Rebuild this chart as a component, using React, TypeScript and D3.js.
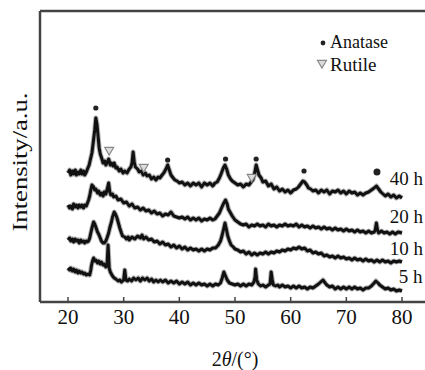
import React from 'react';
import * as d3 from 'd3';

// 2θ (deg) vs intensity (a.u., offset per sample)
const series40h: [number, number][] = [
  [20, 129], [20.3, 132], [20.5, 127], [20.8, 131], [21, 128], [21.3, 132], [21.5, 127], [21.8, 130], [22, 128],
  [22.3, 132], [22.5, 128], [22.8, 131], [23, 127], [23.3, 130], [23.5, 133], [23.8, 137], [24, 142], [24.3, 149],
  [24.5, 158], [24.8, 172], [25, 184], [25.2, 178], [25.4, 166], [25.6, 154], [25.8, 148], [26.1, 143], [26.3, 139],
  [26.6, 141], [26.8, 137], [27.1, 140], [27.3, 143], [27.6, 137], [27.8, 139], [28.1, 136], [28.3, 139], [28.6, 134],
  [28.8, 135], [29.2, 131], [29.5, 133], [29.9, 129], [30.2, 131], [30.6, 129], [31, 133], [31.3, 135], [31.5, 139],
  [31.7, 150], [31.9, 140], [32.1, 135], [32.5, 133], [32.8, 130], [33.2, 131], [33.5, 127], [33.9, 129], [34.2, 126],
  [34.6, 127], [35, 123], [35.4, 125], [35.8, 122], [36.2, 125], [36.5, 124], [36.9, 127], [37.2, 129], [37.6, 133],
  [37.9, 137], [38.2, 132], [38.5, 127], [38.9, 124], [39.2, 122], [39.6, 121], [40, 119], [40.5, 120], [41, 117],
  [41.5, 119], [42, 116], [42.5, 119], [43, 117], [43.5, 119], [44, 115], [44.5, 119], [45, 117], [45.5, 119],
  [46, 116], [46.4, 119], [46.8, 120], [47.2, 124], [47.5, 128], [47.9, 134], [48.2, 137], [48.5, 133], [48.8, 127],
  [49.2, 123], [49.5, 121], [50, 119], [50.5, 117], [51, 118], [51.5, 115], [52, 118], [52.5, 117], [52.9, 120],
  [53.2, 122], [53.5, 128], [53.8, 137], [54.1, 131], [54.3, 127], [54.7, 124], [55, 120], [55.5, 121], [56, 116],
  [56.5, 118], [57, 113], [57.5, 115], [58, 111], [58.5, 113], [59, 110], [59.5, 112], [60, 109], [60.5, 112],
  [61, 113], [61.4, 115], [61.8, 118], [62.2, 121], [62.5, 120], [62.9, 117], [63.2, 114], [63.6, 113], [64, 111],
  [64.5, 112], [65, 109], [65.5, 112], [66, 110], [66.5, 112], [67, 108], [67.5, 111], [68, 110], [68.5, 112],
  [69, 109], [69.5, 111], [70, 108], [70.5, 111], [71, 109], [71.5, 110], [72, 107], [72.5, 109], [73, 107],
  [73.5, 109], [74, 110], [74.5, 112], [75, 114], [75.4, 116], [75.8, 113], [76.2, 110], [76.6, 108], [77, 106],
  [77.5, 108], [78, 105], [78.5, 107], [79, 104], [79.5, 106], [80, 104],
];

const series20h: [number, number][] = [
  [20, 97], [20.3, 94], [20.5, 96], [20.8, 93], [21, 98], [21.3, 95], [21.5, 97], [21.8, 94], [22, 97], [22.3, 95],
  [22.5, 97], [22.8, 94], [23, 97], [23.3, 96], [23.5, 99], [23.7, 102], [23.9, 106], [24.1, 112], [24.3, 117],
  [24.6, 115], [24.8, 112], [25, 113], [25.3, 109], [25.5, 111], [25.8, 107], [26, 109], [26.3, 106], [26.5, 110],
  [26.8, 108], [27, 112], [27.3, 119], [27.5, 110], [27.7, 107], [28, 108], [28.2, 105], [28.6, 106], [29, 102],
  [29.5, 103], [30, 99], [30.5, 100], [31, 96], [31.5, 98], [32, 94], [32.5, 95], [33, 92], [33.5, 94], [34, 91],
  [34.5, 92], [35, 89], [35.5, 91], [36, 88], [36.5, 89], [37, 86], [37.5, 88], [38, 87], [38.5, 90], [39, 86],
  [39.5, 85], [40, 84], [40.5, 85], [41, 83], [41.5, 85], [42, 82], [42.5, 84], [43, 82], [43.5, 84], [44, 81],
  [44.5, 83], [45, 82], [45.5, 84], [46, 82], [46.4, 83], [46.8, 86], [47.2, 89], [47.5, 93], [47.9, 98], [48.3, 102],
  [48.6, 98], [48.8, 93], [49.2, 89], [49.5, 86], [50, 82], [50.5, 80], [51, 78], [51.5, 77], [52, 78], [52.5, 75],
  [53, 77], [53.5, 76], [54, 78], [54.5, 76], [55, 77], [55.5, 75], [56, 78], [56.5, 76], [57, 77], [57.5, 75],
  [58, 77], [58.5, 76], [59, 78], [59.5, 76], [60, 77], [60.5, 76], [61, 78], [61.5, 75], [62, 77], [62.5, 75],
  [63, 76], [63.5, 74], [64, 76], [64.5, 74], [65, 75], [65.5, 73], [66, 75], [66.5, 73], [67, 74], [67.5, 72],
  [68, 74], [68.5, 72], [69, 73], [69.5, 71], [70, 73], [70.5, 71], [71, 72], [71.5, 70], [72, 72], [72.5, 70],
  [73, 71], [73.5, 69], [74, 71], [74.5, 69], [75, 70], [75.2, 72], [75.4, 79], [75.6, 72], [75.8, 69], [76.3, 71],
  [76.8, 69], [77.3, 70], [77.8, 68], [78.3, 70], [78.8, 68], [79.3, 70], [80, 69],
];

const series10h: [number, number][] = [
  [20, 62], [20.3, 64], [20.5, 61], [20.8, 63], [21, 60], [21.3, 63], [21.5, 61], [21.8, 62], [22, 59], [22.3, 62],
  [22.5, 60], [22.8, 61], [23, 59], [23.3, 61], [23.5, 60], [23.7, 61], [23.9, 64], [24.1, 69], [24.3, 74], [24.6, 80],
  [24.8, 78], [25, 75], [25.3, 70], [25.5, 68], [25.8, 64], [26, 61], [26.3, 59], [26.5, 59], [26.8, 61], [27, 64],
  [27.3, 69], [27.5, 74], [27.8, 80], [28, 85], [28.3, 90], [28.6, 87], [28.8, 84], [29.1, 78], [29.3, 74], [29.6, 69],
  [29.8, 66], [30.2, 65], [30.5, 63], [30.8, 65], [31, 62], [31.5, 65], [32, 63], [32.5, 66], [33, 64], [33.3, 67],
  [33.6, 63], [34, 65], [34.5, 62], [35, 63], [35.5, 60], [36, 61], [36.5, 58], [37, 60], [37.5, 57], [38, 58],
  [38.5, 55], [39, 57], [39.5, 54], [40, 56], [40.5, 53], [41, 55], [41.5, 52], [42, 54], [42.5, 52], [43, 53],
  [43.5, 51], [44, 53], [44.5, 51], [45, 53], [45.5, 52], [46, 54], [46.5, 54], [47, 57], [47.4, 61], [47.7, 67],
  [48, 74], [48.2, 79], [48.4, 74], [48.7, 66], [49, 61], [49.3, 57], [49.7, 55], [50, 53], [50.5, 52], [51, 50],
  [51.5, 51], [52, 48], [52.5, 50], [53, 47], [53.5, 49], [54, 47], [54.5, 49], [55, 48], [55.5, 50], [56, 48],
  [56.5, 50], [57, 49], [57.5, 51], [58, 50], [58.5, 52], [59, 51], [59.5, 53], [60, 52], [60.5, 54], [61, 53],
  [61.5, 55], [62, 53], [62.5, 54], [63, 51], [63.5, 52], [64, 49], [64.5, 50], [65, 48], [65.5, 49], [66, 46],
  [66.5, 47], [67, 45], [67.5, 46], [68, 44], [68.5, 46], [69, 44], [69.5, 45], [70, 43], [70.5, 44], [71, 42],
  [71.5, 44], [72, 42], [72.5, 43], [73, 41], [73.5, 43], [74, 41], [74.5, 42], [75, 40], [75.5, 42], [76, 40],
  [76.5, 42], [77, 40], [77.5, 41], [78, 39], [78.5, 41], [79, 40], [79.5, 41], [80, 40],
];

const series5h: [number, number][] = [
  [20, 34], [20.3, 32], [20.5, 34], [20.8, 31], [21, 33], [21.3, 30], [21.5, 32], [21.8, 29], [22, 31], [22.3, 29],
  [22.5, 30], [22.8, 28], [23, 29], [23.3, 27], [23.6, 28], [23.9, 27], [24.1, 32], [24.2, 36], [24.4, 41], [24.6, 44],
  [24.8, 41], [25, 42], [25.3, 39], [25.5, 41], [25.8, 38], [26, 40], [26.3, 37], [26.5, 38], [26.8, 35], [27, 36],
  [27.2, 57], [27.4, 34], [27.6, 30], [27.8, 28], [28, 26], [28.3, 24], [28.6, 23], [29, 21], [29.3, 22], [29.6, 20],
  [30, 22], [30.2, 32], [30.4, 22], [30.7, 21], [31, 23], [31.4, 21], [31.8, 24], [32.2, 22], [32.6, 24], [33, 21],
  [33.4, 24], [33.8, 22], [34.2, 24], [34.6, 21], [35, 23], [35.4, 20], [35.8, 22], [36.2, 20], [36.6, 22], [37, 20],
  [37.5, 22], [38, 19], [38.5, 21], [39, 19], [39.5, 21], [40, 18], [40.5, 20], [41, 18], [41.5, 20], [42, 17],
  [42.5, 19], [43, 17], [43.5, 19], [44, 17], [44.5, 18], [45, 16], [45.5, 18], [46, 16], [46.5, 18], [47, 17],
  [47.4, 19], [47.7, 24], [48, 30], [48.3, 26], [48.6, 22], [49, 19], [49.5, 18], [50, 17], [50.5, 18], [51, 16],
  [51.5, 18], [52, 16], [52.5, 18], [53, 17], [53.4, 20], [53.6, 25], [53.7, 33], [53.9, 22], [54.2, 18], [54.6, 16],
  [55, 17], [55.5, 15], [56, 17], [56.3, 18], [56.5, 30], [56.7, 22], [56.9, 17], [57.3, 16], [57.7, 17], [58, 15],
  [58.5, 17], [59, 15], [59.5, 16], [60, 14], [60.5, 16], [61, 14], [61.5, 16], [62, 14], [62.5, 15], [63, 13],
  [63.5, 15], [64, 14], [64.5, 16], [65, 18], [65.4, 20], [65.8, 22], [66.2, 19], [66.5, 17], [67, 15], [67.5, 16],
  [68, 13], [68.5, 15], [69, 13], [69.5, 15], [70, 13], [70.5, 15], [71, 13], [71.5, 15], [72, 13], [72.5, 14],
  [73, 12], [73.5, 14], [74, 14], [74.5, 16], [75, 19], [75.3, 21], [75.7, 19], [76, 17], [76.5, 15], [77, 13],
  [77.5, 14], [78, 12], [78.5, 13], [79, 11], [79.5, 12], [80, 11],
];

const seriesList = [series40h, series20h, series10h, series5h];
const seriesLabels = ['40 h', '20 h', '10 h', '5 h'];
const labelY = [117, 79, 47, 19];
const labelX = [77.8, 77.8, 77.8, 79.4];

// phase markers on the 40 h pattern
const anatasePeaks: [number, number][] = [[25, 194], [37.9, 142], [48.3, 143], [53.8, 143], [62.4, 131], [75.5, 130]];
const rutilePeaks: [number, number][] = [[27.4, 152], [33.6, 135], [53.0, 125]];

const xTicks = [20, 30, 40, 50, 60, 70, 80];

const W = 425;
const H = 370;
const FONT = "'Liberation Serif'";

const App: React.FC = () => {
  const x = d3.scaleLinear().domain([20, 80]).range([68, 402]);
  const y = d3.scaleLinear().domain([0, 291]).range([302, 11]);
  const line = d3.line<[number, number]>().x(d => x(d[0])).y(d => y(d[1]));
  const tri = d3.symbol().type(d3.symbolTriangle).size(34)() || '';
  const frameColor = '#444';

  return (
    <svg width={W} height={H} style={{ position: 'absolute', left: 0, top: 0, background: '#fff' }}>
      <rect x={0} y={0} width={W} height={H} fill="#fff" />

      {/* frame: left, top, bottom (right edge is cut off) */}
      <line x1={40} x2={W} y1={11} y2={11} stroke={frameColor} strokeWidth={2.5} />
      <line x1={40} x2={40} y1={11} y2={302} stroke={frameColor} strokeWidth={2.5} />
      <line x1={40} x2={W} y1={302} y2={302} stroke={frameColor} strokeWidth={2.5} />

      {xTicks.map(t => (
        <g key={t}>
          <line x1={x(t)} x2={x(t)} y1={302} y2={297} stroke={frameColor} strokeWidth={1.5} />
          <text x={x(t)} y={324} textAnchor="middle" fontSize={21} fill="#111" style={{ fontFamily: FONT }}>{t}</text>
        </g>
      ))}

      <text x={235} y={366} textAnchor="middle" fontSize={20} fill="#111" style={{ fontFamily: FONT }}>
        2<tspan fontStyle="italic">θ</tspan>/(°)
      </text>
      <text transform="translate(27,162) rotate(-90)" textAnchor="middle" fontSize={20} fill="#111"
        textLength={139} lengthAdjust="spacingAndGlyphs" style={{ fontFamily: FONT }}>
        Intensity/a.u.
      </text>

      {/* patterns */}
      {seriesList.map((s, i) => (
        <g key={i}>
          <path d={line(s) || ''} fill="none" stroke="#000" strokeWidth={5} strokeOpacity={0.3} strokeLinejoin="round" />
          <path d={line(s) || ''} fill="none" stroke="#111" strokeWidth={3} strokeLinejoin="round" />
        </g>
      ))}

      {seriesLabels.map((l, i) => (
        <text key={l} x={x(labelX[i])} y={y(labelY[i])} fontSize={19} fill="#111" style={{ fontFamily: FONT }}>{l}</text>
      ))}

      {anatasePeaks.map((d, i) => (
        <circle key={i} cx={x(d[0])} cy={y(d[1])} r={i === anatasePeaks.length - 1 ? 3.5 : 2.6} fill="#222" />
      ))}
      {rutilePeaks.map((d, i) => (
        <path key={i} d={tri} transform={`translate(${x(d[0])},${y(d[1])}) rotate(180)`}
          fill="#ddd" stroke="#888" strokeWidth={1.2} />
      ))}

      {/* legend */}
      <circle cx={323} cy={43} r={2.4} fill="#222" />
      <text x={330} y={48} fontSize={18} fill="#111" style={{ fontFamily: FONT }}>Anatase</text>
      <path d={tri} transform="translate(322,63) rotate(180)" fill="#ddd" stroke="#888" strokeWidth={1.2} />
      <text x={330} y={71} fontSize={19} fill="#111" style={{ fontFamily: FONT }}>Rutile</text>
    </svg>
  );
};

export default App;
